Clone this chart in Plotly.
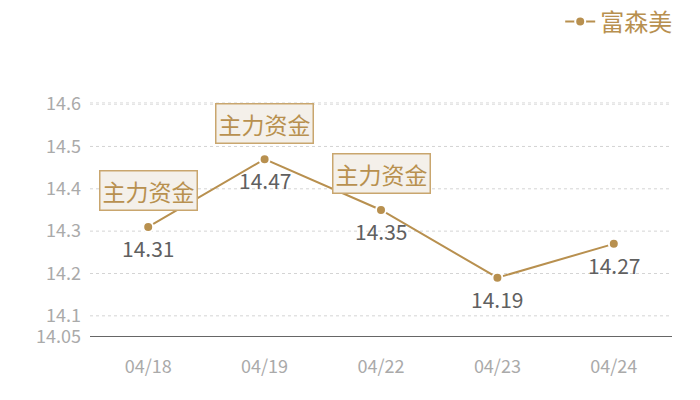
import plotly.graph_objects as go

dates = ["04/18", "04/19", "04/22", "04/23", "04/24"]
prices = [14.31, 14.47, 14.35, 14.19, 14.27]
series_name = "富森美"

flag_dates = ["04/18", "04/19", "04/22"]
flag_text = "主力资金"

y_ticks = [14.05, 14.1, 14.2, 14.3, 14.4, 14.5, 14.6]

gold = "#b8904f"
font_family = "Noto Sans CJK SC, Microsoft YaHei, sans-serif"

fig = go.Figure()
fig.add_trace(
    go.Scatter(
        x=dates,
        y=prices,
        name=series_name,
        mode="lines+markers",
        line=dict(color=gold, width=2),
        marker=dict(color=gold, size=10, line=dict(color="white", width=2)),
        cliponaxis=False,
    )
)

# value labels under each point
for d, v in zip(dates, prices):
    fig.add_annotation(
        x=d, y=v, text=f"{v:.2f}", showarrow=False, yshift=-21,
        font=dict(color="#606060", size=21, family=font_family),
    )

# gridlines (dashed, drawn as shapes so the baseline stays solid)
for t in y_ticks[1:] + [14.605]:
    fig.add_shape(
        type="line", xref="paper", yref="y", x0=0, x1=1, y0=t, y1=t,
        line=dict(color="#d4d4d4", width=1, dash="dot"), layer="below",
    )

for d in flag_dates:
    v = prices[dates.index(d)]
    fig.add_annotation(
        x=d, y=v, text=flag_text, showarrow=False, yshift=36,
        font=dict(color=gold, size=23, family=font_family),
        bgcolor="#f4f0ea", bordercolor="#c9a66e", borderwidth=1.5, borderpad=2,
    )

# the page body adds an 8px offset, margins are set to compensate
fig.update_layout(
    width=700,
    height=400,
    margin=dict(l=82, r=36, t=94, b=71, autoexpand=False),
    plot_bgcolor="white",
    paper_bgcolor="white",
    font=dict(family=font_family),
    showlegend=True,
    legend=dict(
        x=0.956, y=0.965, xref="container", yref="container",
        xanchor="right", yanchor="middle",
        orientation="h", font=dict(color=gold, size=24, family=font_family),
        bgcolor="rgba(0,0,0,0)", itemwidth=30,
    ),
    xaxis=dict(
        type="category",
        range=[-0.5, 4.5],
        showgrid=False,
        showline=False,
        zeroline=False,
        ticks="",
        tickfont=dict(color="#aaaaaa", size=18),
        ticklabelstandoff=17,
    ),
    yaxis=dict(
        range=[14.05, 14.605],
        tickvals=y_ticks,
        ticktext=["14.05", "14.1", "14.2", "14.3", "14.4", "14.5", "14.6"],
        showgrid=False,
        zeroline=False,
        showline=False,
        tickfont=dict(color="#aaaaaa", size=18),
        ticks="",
        ticklabelstandoff=8,
    ),
)

fig.add_shape(
    type="line", xref="paper", yref="y", x0=0, x1=1, y0=14.05, y1=14.05,
    line=dict(color="#333333", width=1.3),
)

fig.write_html("out.html")
